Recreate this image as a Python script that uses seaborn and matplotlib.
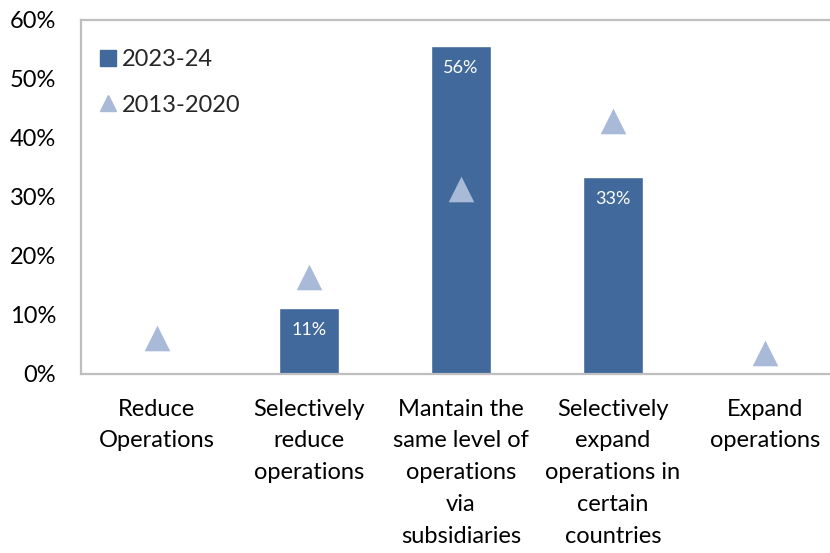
import matplotlib
matplotlib.use("Agg")
import matplotlib.pyplot as plt
from matplotlib.lines import Line2D
import seaborn as sns
import pandas as pd

categories = [
    "Reduce\nOperations",
    "Selectively\nreduce\noperations",
    "Mantain the\nsame level of\noperations\nvia\nsubsidiaries",
    "Selectively\nexpand\noperations in\ncertain\ncountries",
    "Expand\noperations",
]
share_2023_24 = [0.0, 1 / 9, 5 / 9, 3 / 9, 0.0]
share_2013_2020 = [0.061, 0.163, 0.314, 0.429, 0.034]
yticks = [0.0, 0.1, 0.2, 0.3, 0.4, 0.5, 0.6]
ytick_labels = ["0%", "10%", "20%", "30%", "40%", "50%", "60%"]

bar_color = "#41699B"
tri_color = "#A9B9D8"
frame_color = "#BFBFBF"

sns.set_theme(style="white")
plt.rcParams["font.family"] = ["Lato", "DejaVu Sans"]

df = pd.DataFrame({
    "category": categories,
    "y2023": share_2023_24,
    "y2013": share_2013_2020,
})

fig = plt.figure(figsize=(8.30, 5.53), dpi=100)
ax = fig.add_axes([81 / 830, (553 - 373.5) / 553, 760 / 830, 353.5 / 553])

sns.barplot(data=df, x="category", y="y2023", color=bar_color, width=0.4,
            saturation=1, ax=ax, zorder=2)
sns.scatterplot(x=list(range(len(categories))), y=df["y2013"], marker="^",
                s=340, color=tri_color, linewidth=0, ax=ax, zorder=3)

# value labels inside the bars
for i, v in enumerate(share_2023_24):
    if v > 0:
        ax.annotate(f"{v:.0%}", xy=(i, v), xytext=(0, -16),
                    textcoords="offset points", ha="center", va="center",
                    color="white", fontsize=13)

ax.set_xlim(-0.5, 4.5)
ax.set_ylim(0, 0.6)
ax.set_yticks(yticks)
ax.set_yticklabels(ytick_labels, fontsize=17, color="black")
ax.set_xticks(range(len(categories)))
ax.set_xticklabels(categories, fontsize=17, color="black", linespacing=1.64,
                   va="top")
ax.tick_params(axis="y", length=0, pad=18)
ax.tick_params(axis="x", length=0, pad=18)
ax.set_xlabel("")
ax.set_ylabel("")

for side in ["left", "top", "bottom", "right"]:
    ax.spines[side].set_visible(True)
    ax.spines[side].set_color(frame_color)
    ax.spines[side].set_linewidth(1.6)

handles = [
    Line2D([], [], marker="s", linestyle="none", color=bar_color, markersize=11),
    Line2D([], [], marker="^", linestyle="none", color=tri_color, markersize=12),
]
ax.legend(handles, ["2023-24", "2013-2020"], loc="upper left",
          bbox_to_anchor=(0.012, 0.945), frameon=False, fontsize=17,
          handlelength=0.7, handletextpad=0.25, labelspacing=1.05,
          borderaxespad=0)

fig.savefig("out.png", dpi=100)
